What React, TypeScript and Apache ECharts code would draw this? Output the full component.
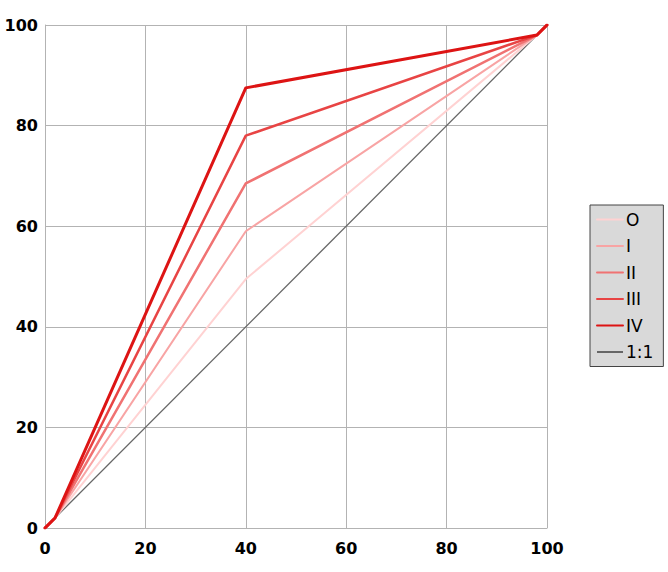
import { useEffect, useRef } from "react";
import * as echarts from "echarts";

// x positions of the break points
const xPoints = [0, 2, 40, 98, 100];

const seriesNames = ["O", "I", "II", "III", "IV"];
const seriesValues = [
  [0, 2, 49.5, 98, 100],
  [0, 2, 59, 98, 100],
  [0, 2, 68.5, 98, 100],
  [0, 2, 78, 98, 100],
  [0, 2, 87.5, 98, 100],
];
const seriesColors = ["#ffd2d2", "#f8a4a4", "#f07272", "#e84444", "#dd1414"];
const seriesWidths = [2, 2, 2.5, 2.5, 3];

const identityName = "1:1";
const identityValues = [0, 100];
const identityX = [0, 100];

const ticks = [0, 20, 40, 60, 80, 100];

const font = "DejaVu Sans, sans-serif";

export default function App() {
  const chartRef = useRef<HTMLDivElement>(null);

  useEffect(() => {
    document.body.style.margin = "0";
    if (!chartRef.current) return;
    const chart = echarts.init(chartRef.current, null, { renderer: "svg" });

    const lines: any[] = seriesNames.map((name, i) => ({
      name,
      type: "line",
      symbol: "none",
      data: xPoints.map((x, j) => [x, seriesValues[i][j]]),
      lineStyle: { color: seriesColors[i], width: seriesWidths[i], cap: "round", join: "round" },
      itemStyle: { color: seriesColors[i] },
      z: 3,
    }));
    lines.unshift({
      name: identityName,
      type: "line",
      symbol: "none",
      data: identityX.map((x, j) => [x, identityValues[j]]),
      lineStyle: { color: "#666666", width: 1.3 },
      itemStyle: { color: "#666666" },
      z: 2,
    });

    const axisCommon = {
      type: "value",
      min: ticks[0],
      max: ticks[ticks.length - 1],
      interval: 20,
      axisLine: { show: true, lineStyle: { color: "#b3b3b3" } },
      axisTick: { show: false },
      splitLine: { show: true, lineStyle: { color: "#b3b3b3", width: 1 } },
      axisLabel: {
        color: "#000",
        fontWeight: "bold",
        fontSize: 16,
        fontFamily: font,
      },
    };

    chart.setOption({
      animation: false,
      backgroundColor: "#ffffff",
      grid: { left: 45, right: 121, top: 25, bottom: 44, containLabel: false },
      xAxis: { ...axisCommon, axisLabel: { ...axisCommon.axisLabel, margin: 12 } },
      yAxis: { ...axisCommon, axisLabel: { ...axisCommon.axisLabel, margin: 7 } },
      legend: {
        orient: "vertical",
        left: 590,
        top: 205,
        data: [...seriesNames, identityName],
        backgroundColor: "#d9d9d9",
        borderColor: "#444",
        borderWidth: 1,
        borderRadius: 0,
        padding: [6, 10, 6, 6],
        itemWidth: 26,
        itemHeight: 14,
        itemGap: 9.5,
        itemStyle: { opacity: 0 },
        textStyle: {
          color: "#000",
          fontSize: 17,
          fontFamily: font,
          padding: [0, 0, 0, -2],
        },
      },
      series: lines,
    });

    return () => chart.dispose();
  }, []);

  return <div ref={chartRef} style={{ width: 668, height: 572 }} />;
}
